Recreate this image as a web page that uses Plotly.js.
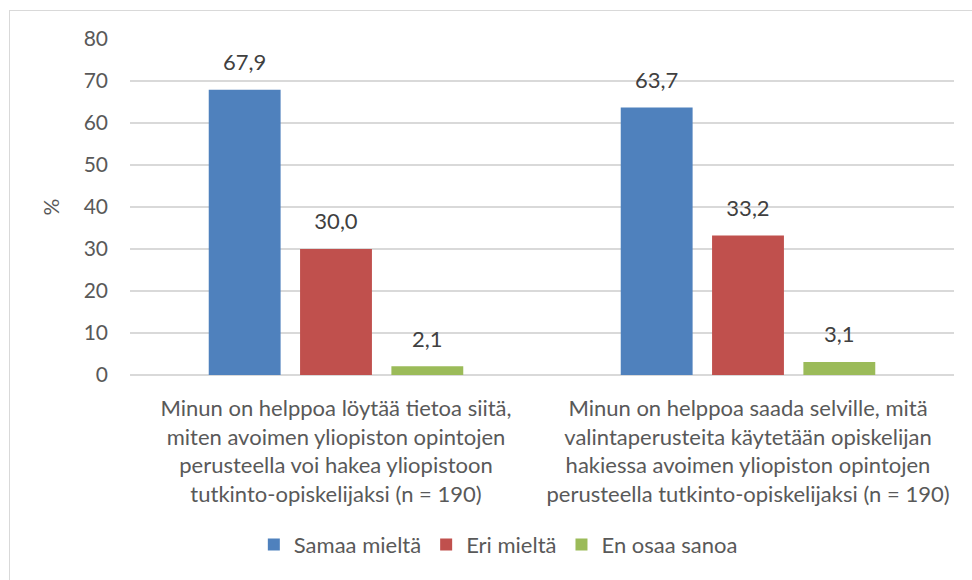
<!DOCTYPE html>
<html>
<head>
<meta charset="utf-8">
<script src="https://cdn.plot.ly/plotly-3.0.1.min.js"></script>
<style>
  html, body { margin: 0; padding: 0; background: #ffffff; overflow: hidden; }
  #wrap { position: relative; width: 972px; height: 580px; overflow: hidden; }
  #chart { position: absolute; left: 0; top: 0; width: 972px; height: 580px; }
  #frame { position: absolute; left: 9px; top: 10px; width: 1000px; height: 1000px;
           border: 1.5px solid #d9d9d9; pointer-events: none; box-sizing: border-box; }
</style>
</head>
<body>
<div id="wrap">
  <div id="chart"></div>
  <div id="frame"></div>
</div>
<script>
// ---- data ----
const categories = [
  "Minun on helppoa löytää tietoa siitä,<br>miten avoimen yliopiston opintojen<br>perusteella voi hakea yliopistoon<br>tutkinto-opiskelijaksi (n = 190)",
  "Minun on helppoa saada selville, mitä<br>valintaperusteita käytetään opiskelijan<br>hakiessa avoimen yliopiston opintojen<br>perusteella tutkinto-opiskelijaksi (n = 190)"
];
const seriesNames = ["Samaa mieltä", "Eri mieltä", "En osaa sanoa"];
const samaaMielta = [67.9, 63.7];
const eriMielta = [30.0, 33.2];
const enOsaaSanoa = [2.1, 3.1];
const yTicks = [0, 10, 20, 30, 40, 50, 60, 70, 80];

// ---- style ----
const colors = ["#4F81BD", "#C0504D", "#9BBB59"];
const FONT = "Lato, 'Open Sans', sans-serif";
const seriesValues = [samaaMielta, eriMielta, enOsaaSanoa];
const BARGAP = 0.335;

const traces = [];
seriesValues.forEach((vals, i) => {
  traces.push({
    type: "bar",
    name: seriesNames[i],
    x: categories,
    y: vals,
    marker: { color: colors[i] },
    hoverinfo: "skip"
  });
});
// value labels, grouped like the bars
seriesValues.forEach((vals, i) => {
  traces.push({
    type: "scatter",
    mode: "markers+text",
    x: categories,
    y: vals,
    text: vals.map(v => v.toFixed(1).replace(".", ",")),
    textposition: "top center",
    textfont: { family: FONT, size: 22, color: "#404040" },
    marker: { size: 21, opacity: 0, color: colors[i] },
    showlegend: false,
    hoverinfo: "skip",
    cliponaxis: false
  });
});

const layout = {
  width: 972,
  height: 580,
  margin: { l: 130, r: 18, t: 39, b: 205 },
  paper_bgcolor: "rgba(0,0,0,0)",
  plot_bgcolor: "#ffffff",
  font: { family: FONT, size: 22, color: "#595959" },
  barmode: "group",
  bargap: BARGAP,
  bargroupgap: 0.213,
  scattermode: "group",
  scattergap: BARGAP,
  showlegend: true,
  legend: {
    orientation: "h",
    x: 0.447,
    xanchor: "center",
    y: -0.505,
    yanchor: "middle",
    font: { family: FONT, size: 22, color: "#595959" },
    traceorder: "normal",
    itemwidth: 30
  },
  xaxis: {
    type: "category",
    showgrid: false,
    showline: false,
    zeroline: false,
    ticks: "",
    tickfont: { family: FONT, size: 22, color: "#595959" },
    ticklabelstandoff: 18,
    fixedrange: true
  },
  yaxis: {
    range: [0, 80],
    tickvals: yTicks,
    ticktext: yTicks.map(String),
    showgrid: true,
    gridcolor: "#d9d9d9",
    gridwidth: 1.5,
    zeroline: true,
    zerolinecolor: "#d9d9d9",
    zerolinewidth: 1.5,
    showline: false,
    ticks: "",
    tickfont: { family: FONT, size: 21, color: "#595959" },
    ticklabelstandoff: 21,
    title: { text: "%", font: { family: FONT, size: 21, color: "#595959" }, standoff: 18 },
    fixedrange: true
  }
};

Plotly.newPlot("chart", traces, layout, { displayModeBar: false, staticPlot: true });
</script>
</body>
</html>
